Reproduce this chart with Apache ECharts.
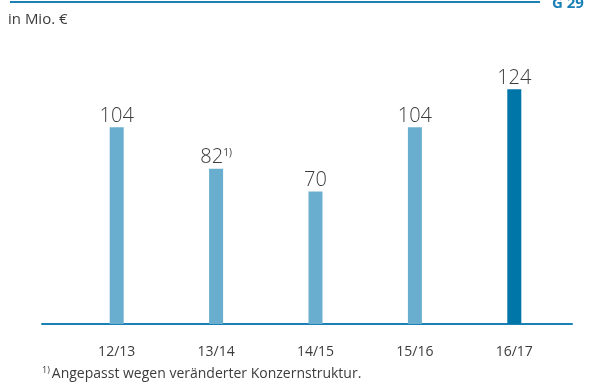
<!DOCTYPE html>
<html>
<head>
<meta charset="utf-8">
<script src="https://cdn.jsdelivr.net/npm/echarts@6/dist/echarts.min.js"></script>
<style>
  html, body { margin: 0; padding: 0; background: #fff; }
  #chart { width: 603px; height: 391px; }
</style>
</head>
<body>
<div id="chart"></div>
<script>
// Fiscal years and values (in Mio. €)
const categories = ['12/13', '13/14', '14/15', '15/16', '16/17'];
const values = [104, 82, 70, 104, 124];
// Footnote markers attached to single values
const footnoteMarks = ['', '1)', '', '', ''];
const footnoteText = 'Angepasst wegen veränderter Konzernstruktur.';

const barLight = '#6aaecf';
const barDark = '#0076a8';
const lineBlue = '#1a80b6';
const textGray = '#3c3c3c';
const font = 'Open Sans';

const chart = echarts.init(document.getElementById('chart'), null, { renderer: 'canvas' });

const seriesData = values.map((v, i) => ({
  value: v,
  itemStyle: { color: i === values.length - 1 ? barDark : barLight },
  label: {
    formatter: footnoteMarks[i] ? '{v|' + v + '}{s|' + footnoteMarks[i] + '}' : '{v|' + v + '}'
  }
}));

chart.setOption({
  animation: false,
  grid: [
    { left: 67, right: 39, top: 59, bottom: 67, containLabel: false },
    { left: 42, right: 31, top: 59, bottom: 67, containLabel: false }
  ],
  xAxis: [
    {
      type: 'category',
      gridIndex: 0,
      data: categories,
      axisLine: { show: false },
      axisTick: { show: false },
      axisLabel: { color: textGray, fontFamily: font, fontSize: 14, margin: 21 }
    },
    {
      type: 'value',
      gridIndex: 1,
      min: 0, max: 1,
      axisLine: { show: true, onZero: false, lineStyle: { color: lineBlue, width: 2 } },
      axisTick: { show: false },
      axisLabel: { show: false },
      splitLine: { show: false }
    }
  ],
  yAxis: [
    { type: 'value', gridIndex: 0, min: 0, max: 140, show: false, splitLine: { show: false } },
    { type: 'value', gridIndex: 1, min: 0, max: 140, show: false, splitLine: { show: false } }
  ],
  series: [{
    type: 'bar',
    xAxisIndex: 0,
    yAxisIndex: 0,
    data: seriesData,
    barWidth: 14,
    label: {
      show: true,
      position: 'top',
      distance: 1,
      rich: {
        v: { fontFamily: font, fontSize: 20, color: textGray, fontWeight: 300 },
        s: { fontFamily: font, fontSize: 10, color: textGray, verticalAlign: 'top', padding: [0, 0, 10, 0] }
      }
    }
  }],
  graphic: [
    { type: 'line', shape: { x1: 10, y1: 2, x2: 540, y2: 2 }, style: { stroke: lineBlue, lineWidth: 2 } },
    { type: 'text', left: 552, top: -4, style: { text: 'G 29', font: 'bold 15px "Open Sans"', fill: lineBlue } },
    { type: 'text', left: 8, top: 12, style: { text: 'in Mio. €', font: '15px "Open Sans"', fill: textGray } },
    {
      type: 'text', left: 42, top: 366,
      style: {
        text: '{s|1)}{t|' + footnoteText + '}',
        rich: {
          s: { fontFamily: font, fontSize: 9, fill: textGray, verticalAlign: 'top', padding: [0, 2, 7, 0] },
          t: { fontFamily: font, fontSize: 14, fill: textGray }
        }
      }
    }
  ]
});
</script>
</body>
</html>
